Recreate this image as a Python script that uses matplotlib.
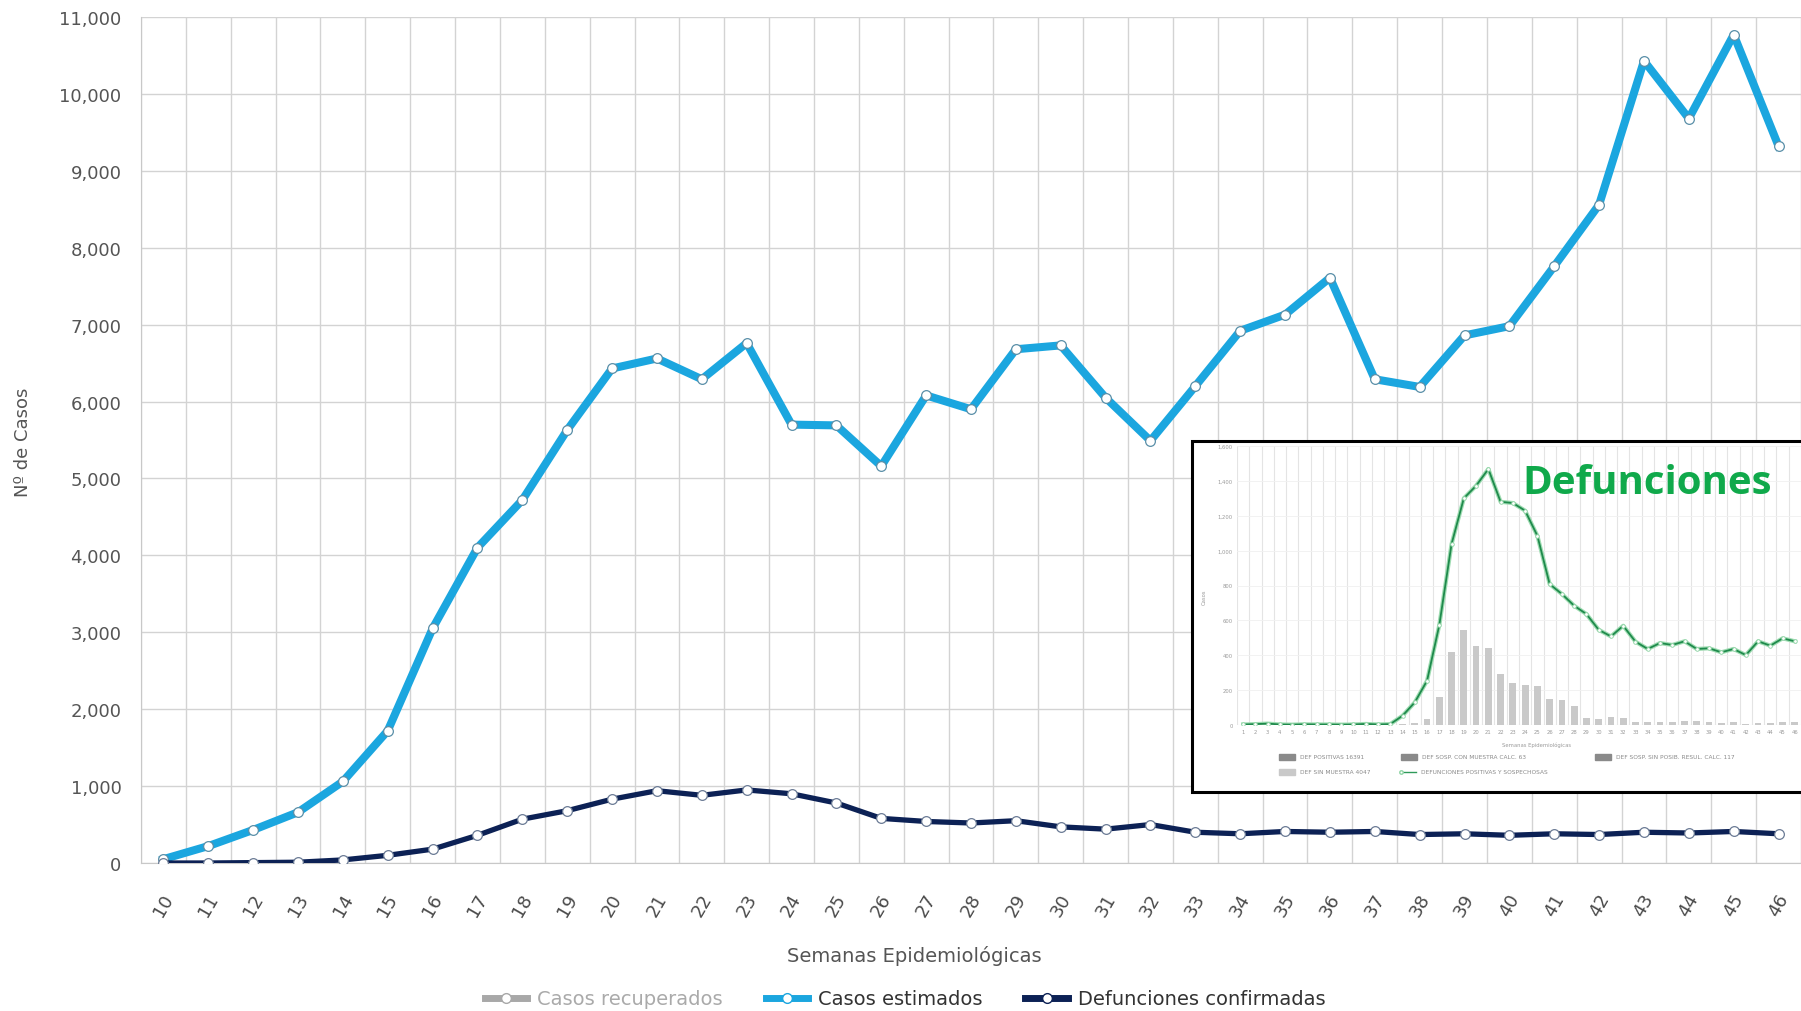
import matplotlib
matplotlib.use("Agg")
import matplotlib.pyplot as plt
from matplotlib.lines import Line2D
from matplotlib.patches import Rectangle
from matplotlib.ticker import FuncFormatter

# main chart data (semanas epidemiologicas 10..46)
semanas = list(range(10, 47))
casos_estimados = [50, 220, 430, 660, 1060, 1720, 3050, 4100, 4720, 5630,
                   6430, 6560, 6290, 6760, 5700, 5690, 5160, 6080, 5900, 6680,
                   6730, 6050, 5490, 6200, 6920, 7130, 7610, 6290, 6190, 6860,
                   6980, 7760, 8560, 10430, 9680, 10770, 9320]
defunciones = [0, 0, 5, 10, 40, 100, 180, 360, 570, 680,
               830, 940, 880, 950, 900, 780, 580, 540, 520, 550,
               470, 440, 500, 400, 380, 410, 400, 410, 370, 380,
               360, 380, 370, 400, 390, 410, 380]
legend_labels = ["Casos recuperados", "Casos estimados", "Defunciones confirmadas"]

# inset chart data (semanas 1..46)
inset_semanas = list(range(1, 47))
inset_linea = [3, 5, 8, 3, 2, 4, 3, 3, 2, 3, 6, 3, 5, 53, 130, 254, 573, 1038, 1300, 1372,
               1468, 1280, 1273, 1229, 1085, 808, 751, 684, 636, 546, 508, 569, 478, 436, 470,
               459, 480, 436, 440, 417, 436, 401, 480, 455, 497, 480]
inset_barras = [0, 0, 0, 0, 0, 0, 0, 0, 0, 0, 0, 0, 0, 3, 10, 34, 159, 417, 546, 455,
                443, 292, 241, 229, 222, 149, 143, 111, 38, 34, 44, 38, 19, 17, 17,
                17, 25, 25, 17, 13, 19, 8, 13, 13, 17, 17]
inset_leyenda = ["DEF POSITIVAS 16391", "DEF SOSP. CON MUESTRA CALC. 63",
                 "DEF SOSP. SIN POSIB. RESUL. CALC. 117",
                 "DEF SIN MUESTRA 4047", "DEFUNCIONES POSITIVAS Y SOSPECHOSAS"]

W, H = 1801, 1012
CYAN = "#1ba6df"
NAVY = "#0c2155"
GRID = "#d3d3d3"

fig = plt.figure(figsize=(W / 100, H / 100), dpi=100)


def fx(px):
    return px / W


def fy(py):
    return 1 - py / H


# ---- main axes ----
ax = fig.add_axes([fx(141), fy(864), fx(W - 141), (864 - 18) / H])
ax.plot(semanas, casos_estimados, color=CYAN, lw=5.8, marker="o", ms=7,
        mfc="white", mec="#5a8fa8", mew=0.9, zorder=3)
ax.plot(semanas, defunciones, color=NAVY, lw=3.8, marker="o", ms=7,
        mfc="white", mec="#6b7b95", mew=0.9, zorder=4)

ax.set_xlim(9.5, 9.5 + (W - 141) / 45.36)
ax.set_ylim(0, 11000)
ax.set_yticks(range(0, 11001, 1000))
ax.yaxis.set_major_formatter(FuncFormatter(lambda v, p: f"{int(v):,}"))
ax.set_xticks(semanas)
ax.set_xticks([s + 0.5 for s in [9] + semanas], minor=True)
ax.grid(True, which="minor", axis="x", color=GRID, lw=1)
ax.grid(True, which="major", axis="y", color=GRID, lw=1)
ax.tick_params(axis="both", which="both", length=0)
ax.tick_params(axis="y", labelsize=13, labelcolor="#555555", pad=14)
ax.tick_params(axis="x", labelsize=13, labelcolor="#4a4a4a", pad=30)
for lab in ax.get_xticklabels():
    lab.set_rotation(60)
    lab.set_ha("center")
    lab.set_va("center")
for side in ["top", "right"]:
    ax.spines[side].set_visible(False)
for side in ["left", "bottom"]:
    ax.spines[side].set_color("#c8c8c8")

fig.text(fx(23), fy(442), "Nº de Casos", rotation=90, ha="center", va="center",
         fontsize=13, color="#555555")
fig.text(fx(914), fy(956), "Semanas Epidemiológicas", ha="center", va="center",
         fontsize=14, color="#555555")

handles = [
    Line2D([], [], color="#a8a8a8", lw=5, marker="o", ms=7, mfc="white", mec="#a8a8a8"),
    Line2D([], [], color=CYAN, lw=5, marker="o", ms=7, mfc="white", mec=CYAN),
    Line2D([], [], color=NAVY, lw=5, marker="o", ms=7, mfc="white", mec=NAVY),
]
leg = fig.legend(handles, legend_labels, loc="center", ncol=3,
                 bbox_to_anchor=(fx(905), fy(1000)), frameon=False,
                 fontsize=14, handlelength=2.2, columnspacing=2.2, handletextpad=0.5)
for txt, c in zip(leg.get_texts(), ["#aaaaaa", "#333333", "#333333"]):
    txt.set_color(c)

# ---- inset (screenshot of deaths chart) ----
fig.patches.append(Rectangle((fx(1192), fy(793)), fx(1820 - 1192), (793 - 442) / H,
                             transform=fig.transFigure, facecolor="white",
                             edgecolor="black", lw=2.2, zorder=1))

ins = fig.add_axes([fx(1237), fy(726), fx(W - 1237), (726 - 447) / H], zorder=2)
ins.set_facecolor("none")
ins.bar(inset_semanas, inset_barras, width=0.55, color="#c9c9c9", zorder=2)
ins.plot(inset_semanas, inset_linea, color="#9fdcb2", lw=3, zorder=3)
ins.plot(inset_semanas, inset_linea, color="#1f8a4c", lw=1.3, marker="o", ms=2.6,
         mfc="white", mec="#8fd4a5", mew=0.6, zorder=4)
ins.set_xlim(0.5, 0.5 + (W - 1237) / 12.5)
ins.set_ylim(0, 1600)
ins.set_yticks(range(0, 1601, 200))
ins.yaxis.set_major_formatter(FuncFormatter(lambda v, p: f"{int(v):,}"))
ins.set_xticks(inset_semanas)
ins.set_xticks([s + 0.5 for s in [0] + inset_semanas], minor=True)
ins.grid(True, which="minor", axis="x", color="#e4e4e4", lw=0.8)
ins.grid(True, which="major", axis="y", color="#f0f0f0", lw=0.6)
ins.tick_params(axis="both", which="both", length=0, labelsize=3.8, labelcolor="#9a9a9a", pad=3)
for s in ins.spines.values():
    s.set_visible(False)
ins.axhline(0, color="#dddddd", lw=0.8, zorder=1)

fig.text(fx(1204), fy(597), "Casos", rotation=90, ha="center", va="center",
         fontsize=3.8, color="#9a9a9a", zorder=5)
fig.text(fx(1537), fy(745), "Semanas Epidemiológicas", ha="center", va="center",
         fontsize=3.8, color="#9a9a9a", zorder=5)

# inset legend, two rows
items = [(1279, 758, "#8a8a8a", inset_leyenda[0]),
         (1401, 758, "#8a8a8a", inset_leyenda[1]),
         (1595, 758, "#8a8a8a", inset_leyenda[2]),
         (1279, 773, "#c9c9c9", inset_leyenda[3])]
for x0, y0, col, txt in items:
    fig.patches.append(Rectangle((fx(x0), fy(y0 + 3)), fx(16), 6 / H,
                                 transform=fig.transFigure, color=col, zorder=5))
    fig.text(fx(x0 + 21), fy(y0), txt, ha="left", va="center", fontsize=4.2,
             color="#8a8a8a", zorder=5)
fig.lines.append(Line2D([fx(1401), fx(1416)], [fy(773), fy(773)], transform=fig.transFigure,
                        color="#2e9a5a", lw=1, marker="o", ms=2.5, mfc="white",
                        mec="#8fd4a5", markevery=[0], zorder=6))
fig.text(fx(1421), fy(773), inset_leyenda[4], ha="left", va="center", fontsize=4.2,
         color="#8a8a8a", zorder=5)

fig.text(fx(1522), fy(483), "Defunciones", ha="left", va="center", fontsize=29,
         fontweight="bold", family="Open Sans", color="#10a94b", zorder=6)

fig.savefig("out.png", dpi=100)
